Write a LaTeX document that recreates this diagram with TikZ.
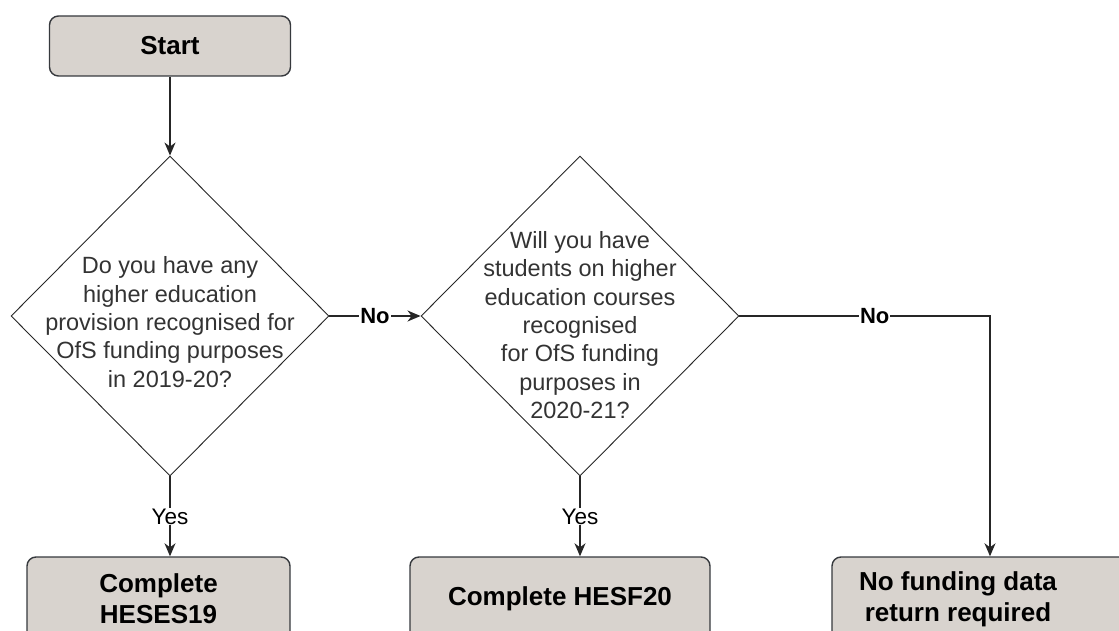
\documentclass[tikz,border=0pt]{standalone}
\usepackage{fontspec}
\setmainfont{Liberation Sans}
\usetikzlibrary{shapes.geometric,arrows.meta,positioning}

\definecolor{boxfill}{RGB}{216,211,206}
\definecolor{edgegrey}{RGB}{54,57,61}

\tikzset{
    stepbox/.style={draw=edgegrey, line width=1.4pt, fill=boxfill, rounded corners=9pt,
        minimum height=84pt, align=center, font=\fontsize{26}{31}\selectfont\bfseries},
    decision/.style={draw=black!85, line width=0.9pt, diamond, minimum width=318pt,
        minimum height=320pt, inner sep=0pt},
    qtext/.style={align=center, text=black!80, font=\fontsize{23.5}{28.3}\selectfont},
    arr/.style={draw=black!85, line width=1.4pt, -{Stealth[length=13pt,width=11pt,inset=4pt]}},
    lbl/.style={fill=white, inner sep=1pt, font=\fontsize{22.5}{26}\selectfont},
    nolbl/.style={lbl, font=\fontsize{22}{26}\selectfont\bfseries},
}

\begin{document}
\begin{tikzpicture}[x=1pt, y=-1pt]
    \useasboundingbox (0, 0) rectangle (1119, 631);
    \clip (0, 0) rectangle (1119, 631);

    \node[stepbox, minimum width=241pt, minimum height=60pt] (start) at (170, 46) {Start};

    \node[decision, label={[qtext, yshift=-6pt]center:{Do you have any\\higher education\\provision recognised for\\OfS funding purposes\\in 2019-20?}}] (q1) at (170, 316) {};
    \node[decision, label={[qtext, yshift=-9pt]center:{Will you have\\students on higher\\education courses\\recognised\\for OfS funding\\purposes in\\2020-21?}}] (q2) at (580, 316) {};

    \node[stepbox, minimum width=263pt] (heses) at (158.5, 599) {Complete\\HESES19};
    \node[stepbox, minimum width=300pt] (hesf) at (560, 599) {Complete HESF20};
    \node[stepbox, minimum width=316pt, label={[align=center, xshift=-32pt, font=\fontsize{26}{31}\selectfont\bfseries]center:{No funding data\\return required}}] (none) at (990, 599) {};

    \draw[arr] (start) -- (q1);
    \draw[arr] (q1) -- node[nolbl] {No} (q2);
    \draw[arr] (q1.south) -- node[lbl] {Yes} (q1.south |- heses.north);
    \draw[arr] (q2.south) -- node[lbl] {Yes} (q2.south |- hesf.north);
    \draw[arr] (q2.east) -| node[nolbl, pos=0.27] {No} (none.north);

\end{tikzpicture}
\end{document}
